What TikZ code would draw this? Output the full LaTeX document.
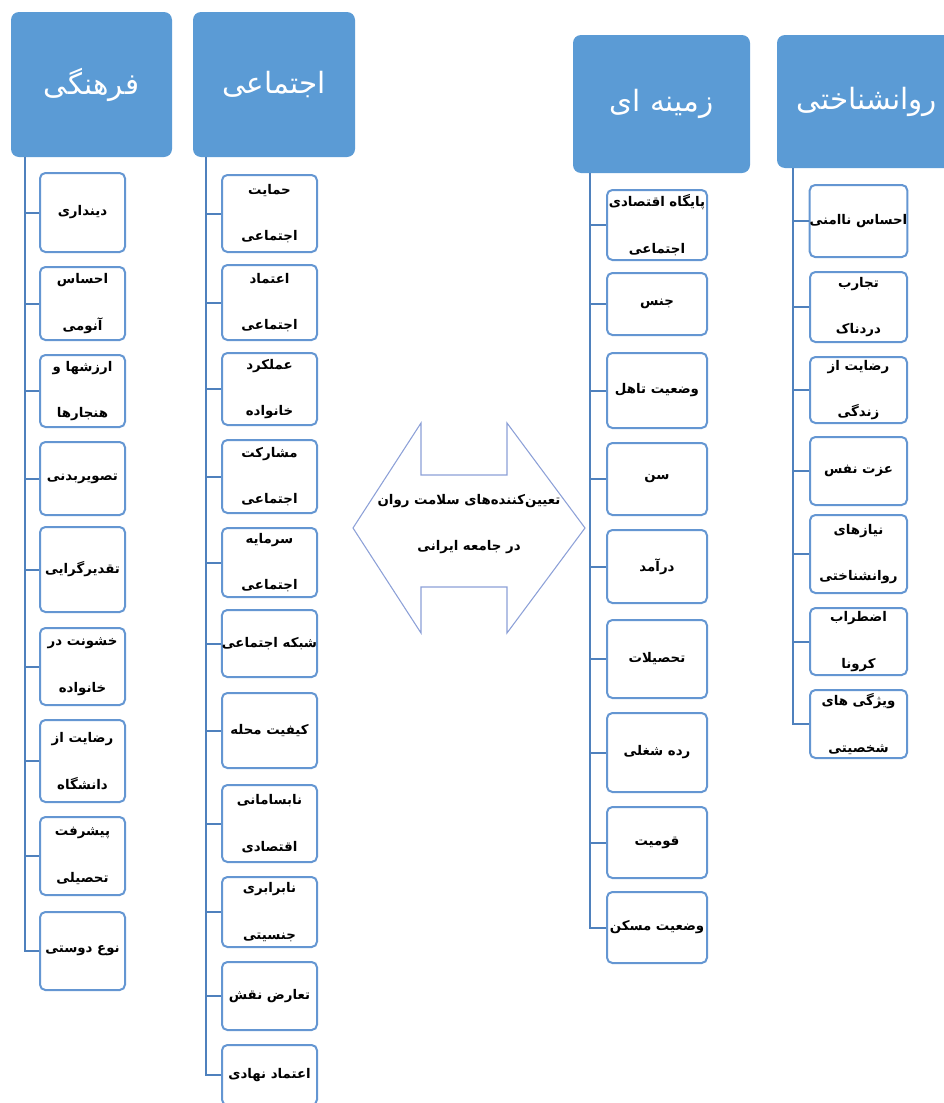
\documentclass[tikz,border=0pt]{standalone}
\usepackage{fontspec}
\newfontfamily\arabicfont[Script=Arabic]{DejaVu Sans}
\TeXXeTstate=1
\usetikzlibrary{positioning}
\definecolor{hdrblue}{RGB}{91,155,213}
\definecolor{boxblue}{RGB}{100,150,210}
\definecolor{linkblue}{RGB}{79,129,189}
\definecolor{arrowblue}{RGB}{140,160,215}
\newcommand{\fa}[1]{\beginR #1\endR}
\newcommand{\two}[2]{\fa{#1}\\\fa{#2}}
\newcommand{\pxu}{0.75pt}

\begin{document}
\begin{tikzpicture}[
  x=0.75pt, y=-0.75pt,
  header/.style={fill=hdrblue, rounded corners=6pt, text=white,
    font=\arabicfont\fontsize{22}{26}\selectfont},
  item/.style={draw=boxblue, line width=1.5pt, fill=white, rounded corners=4pt,
    align=center, inner sep=0pt, font=\arabicfont\bfseries\fontsize{10}{35}\selectfont},
  link/.style={draw=linkblue, line width=1.5pt},
]
  \useasboundingbox (0,0) rectangle (944,1103);
  \clip (0,0) rectangle (944,1103);

  % Headers
  \node[header, minimum width=161*\pxu, minimum height=145*\pxu] (farh) at (91.5,84.5) {\fa{فرهنگی}};
  \node[header, minimum width=162*\pxu, minimum height=145*\pxu] (ejt) at (274,84.5) {\fa{اجتماعی}};
  \node[header, minimum width=177*\pxu, minimum height=138*\pxu] (zam) at (661.5,104) {\fa{زمینه ای}};
  \node[header, minimum width=180*\pxu, minimum height=133*\pxu] (rav) at (867,101.5) {\fa{روانشناختی}};

  \coordinate (fl) at ([xshift=14*\pxu]farh.south west);
  \coordinate (el) at ([xshift=13*\pxu]ejt.south west);
  \coordinate (zl) at ([xshift=17*\pxu]zam.south west);
  \coordinate (rl) at ([xshift=16*\pxu]rav.south west);

  % Cultural
  \foreach \ya/\yb/\lbl [count=\i] in {
    173/252/{\fa{دینداری}},
    267/340/{\two{احساس}{آنومی}},
    355/427/{\two{ارزشها و}{هنجارها}},
    442/515/{\fa{تصویربدنی}},
    527/612/{\fa{تقدیرگرایی}},
    628/705/{\two{خشونت در}{خانواده}},
    720/802/{\two{رضایت از}{دانشگاه}},
    817/895/{\two{پیشرفت}{تحصیلی}},
    912/990/{\fa{نوع دوستی}}} {
    \node[item, minimum width=85*\pxu, minimum height=(\yb-\ya)*\pxu] (f\i) at (82.5,{(\ya+\yb)/2}) {\lbl};
    \draw[link] (fl) |- (f\i.west);
  }

  % Social
  \foreach \ya/\yb/\lbl [count=\i] in {
    175/252/{\two{حمایت}{اجتماعی}},
    265/340/{\two{اعتماد}{اجتماعی}},
    353/425/{\two{عملکرد}{خانواده}},
    440/513/{\two{مشارکت}{اجتماعی}},
    528/597/{\two{سرمایه}{اجتماعی}},
    610/677/{\fa{شبکه اجتماعی}},
    693/768/{\fa{کیفیت محله}},
    785/862/{\two{نابسامانی}{اقتصادی}},
    877/947/{\two{نابرابری}{جنسیتی}},
    962/1030/{\fa{تعارض نقش}},
    1045/1105/{\fa{اعتماد نهادی}}} {
    \node[item, minimum width=95*\pxu, minimum height=(\yb-\ya)*\pxu] (e\i) at (269.5,{(\ya+\yb)/2}) {\lbl};
    \draw[link] (el) |- (e\i.west);
  }

  % Background
  \foreach \ya/\yb/\lbl [count=\i] in {
    190/260/{\two{پایگاه اقتصادی}{اجتماعی}},
    273/335/{\fa{جنس}},
    353/428/{\fa{وضعیت تاهل}},
    443/515/{\fa{سن}},
    530/603/{\fa{درآمد}},
    620/698/{\fa{تحصیلات}},
    713/792/{\fa{رده شغلی}},
    807/878/{\fa{قومیت}},
    892/963/{\fa{وضعیت مسکن}}} {
    \node[item, minimum width=100*\pxu, minimum height=(\yb-\ya)*\pxu] (z\i) at (657,{(\ya+\yb)/2}) {\lbl};
    \draw[link] (zl) |- (z\i.west);
  }

  % Psychological
  \foreach \ya/\yb/\lbl [count=\i] in {
    185/257/{\fa{احساس ناامنی}},
    272/342/{\two{تجارب}{دردناک}},
    357/423/{\two{رضایت از}{زندگی}},
    437/505/{\fa{عزت نفس}},
    515/593/{\two{نیازهای}{روانشناختی}},
    608/675/{\two{اضطراب}{کرونا}},
    690/758/{\two{ویژگی های}{شخصیتی}}} {
    \node[item, minimum width=97*\pxu, minimum height=(\yb-\ya)*\pxu] (r\i) at (858.5,{(\ya+\yb)/2}) {\lbl};
    \draw[link] (rl) |- (r\i.west);
  }

  % Centre arrow
  \draw[arrowblue, line width=0.8pt] (353,528) -- (421,423) -- (421,475) -- (507,475)
    -- (507,423) -- (585,528) -- (507,633) -- (507,587) -- (421,587) -- (421,633) -- cycle;
  \node[align=center, font=\arabicfont\bfseries\fontsize{10}{35}\selectfont] (mid) at (469,524)
    {\beginR تعیین‌کننده‌های سلامت روان\endR\\\beginR در جامعه ایرانی\endR};
\end{tikzpicture}
\end{document}
